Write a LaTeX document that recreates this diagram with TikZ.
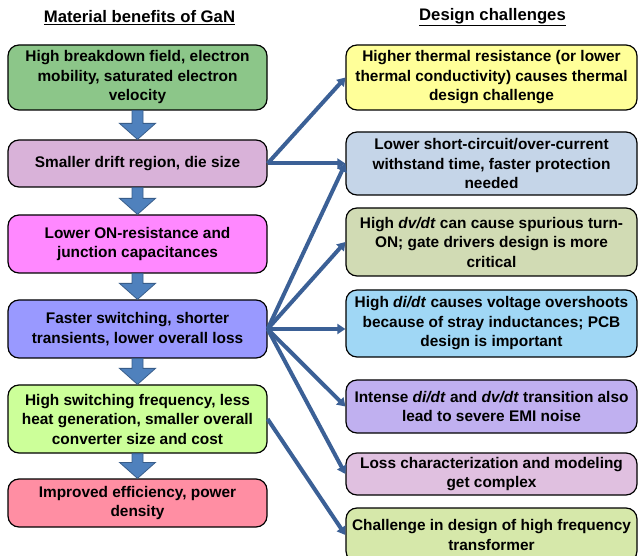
\documentclass[tikz,border=0pt]{standalone}
\usepackage{fontspec}
\setmainfont{Liberation Sans}
\usetikzlibrary{arrows.meta,calc}
\definecolor{cb1}{RGB}{140,198,137}
\definecolor{cb2}{RGB}{217,178,217}
\definecolor{cb3}{RGB}{255,136,255}
\definecolor{cb4}{RGB}{153,153,255}
\definecolor{cb5}{RGB}{204,255,153}
\definecolor{cb6}{RGB}{255,142,163}
\definecolor{cd1}{RGB}{255,255,153}
\definecolor{cd2}{RGB}{197,213,232}
\definecolor{cd3}{RGB}{209,219,180}
\definecolor{cd4}{RGB}{160,215,245}
\definecolor{cd5}{RGB}{192,176,240}
\definecolor{cd6}{RGB}{224,192,224}
\definecolor{cd7}{RGB}{214,232,170}
\definecolor{linkblue}{RGB}{59,96,150}
\definecolor{arrowblue}{RGB}{79,129,189}
\definecolor{arrowedge}{RGB}{56,93,138}
\begin{document}
\begin{tikzpicture}[x=1pt,y=-1pt,
    box/.style={draw=black,line width=1.2pt,rounded corners=11pt,align=center,inner sep=2pt,
      font=\fontsize{15.4}{19.5}\selectfont\bfseries},
    benefit/.style={box,minimum width=259pt},
    challenge/.style={box,minimum width=291pt},
    heading/.style={font=\fontsize{16.7}{20}\selectfont\bfseries},
    link/.style={line width=4pt,draw=linkblue,-{Triangle[length=8pt,width=10pt]}},
    blockarrow/.style={fill=arrowblue,draw=arrowedge,line width=0.8pt}]
  \useasboundingbox (0,0) rectangle (638,556);
  \node[heading] (t1) at (139.5,18) {\underline{Material benefits of GaN}};
  \node[heading] (t2) at (492.5,17) {\underline{Design challenges}};
  \node[benefit,fill=cb1,minimum height=65pt] (b1) at (137.5,77.5)
    {High breakdown field, electron\\mobility, saturated electron\\velocity};
  \node[benefit,fill=cb2,minimum height=47pt] (b2) at (137.5,163.5)
    {Smaller drift region, die size};
  \node[benefit,fill=cb3,minimum height=58pt] (b3) at (137.5,244)
    {Lower ON-resistance and\\junction capacitances};
  \node[benefit,fill=cb4,minimum height=58pt] (b4) at (137.5,329)
    {Faster switching, shorter\\transients, lower overall loss};
  \node[benefit,fill=cb5,minimum height=68pt] (b5) at (137.5,419)
    {High switching frequency, less\\heat generation, smaller overall\\converter size and cost};
  \node[benefit,fill=cb6,minimum height=48pt] (b6) at (137.5,503)
    {Improved efficiency, power\\density};
  \node[challenge,fill=cd1,minimum height=65pt] (d1) at (491.5,77.5)
    {Higher thermal resistance (or lower\\thermal conductivity) causes thermal\\design challenge};
  \node[challenge,fill=cd2,minimum height=63pt] (d2) at (491.5,163.5)
    {Lower short-circuit/over-current\\withstand time, faster protection\\needed};
  \node[challenge,fill=cd3,minimum height=68pt] (d3) at (491.5,242)
    {High \textit{dv/dt} can cause spurious turn-\\ON; gate drivers design is more\\critical};
  \node[challenge,fill=cd4,minimum height=67pt] (d4) at (491.5,323.5)
    {High \textit{di/dt} causes voltage overshoots\\because of stray inductances; PCB\\design is important};
  \node[challenge,fill=cd5,minimum height=53pt] (d5) at (491.5,406.5)
    {Intense \textit{di/dt} and \textit{dv/dt} transition also\\lead to severe EMI noise};
  \node[challenge,fill=cd6,minimum height=42pt] (d6) at (491.5,474)
    {Loss characterization and modeling\\get complex};
  \node[challenge,fill=cd7,minimum height=54pt] (d7) at (491.5,535)
    {Challenge in design of high frequency\\transformer};
  \foreach \a/\b in {b1/b2,b2/b3,b3/b4,b4/b5,b5/b6}
    \draw[blockarrow] ($(\a.south)+(-5.5,0)$) -- ($(\b.north)+(-5.5,-16)$)
      -- ($(\b.north)+(-18,-16)$) -- (\b.north) -- ($(\b.north)+(18,-16)$)
      -- ($(\b.north)+(5.5,-16)$) -- ($(\a.south)+(5.5,0)$) -- cycle;
  \begin{scope}[link]
    \draw (b2.east) -- (d1.west);
    \draw (b2.east) -- (d2.west);
    \draw (b4.east) -- (d2.west);
    \draw (b4.east) -- (d3.west);
    \draw (b4.east) -- (b4.east -| d4.west);
    \draw (b4.east) -- (d5.west);
    \draw (b4.east) -- (d6.west);
    \draw (b5.east) -- (d7.west);
  \end{scope}
\end{tikzpicture}
\end{document}
